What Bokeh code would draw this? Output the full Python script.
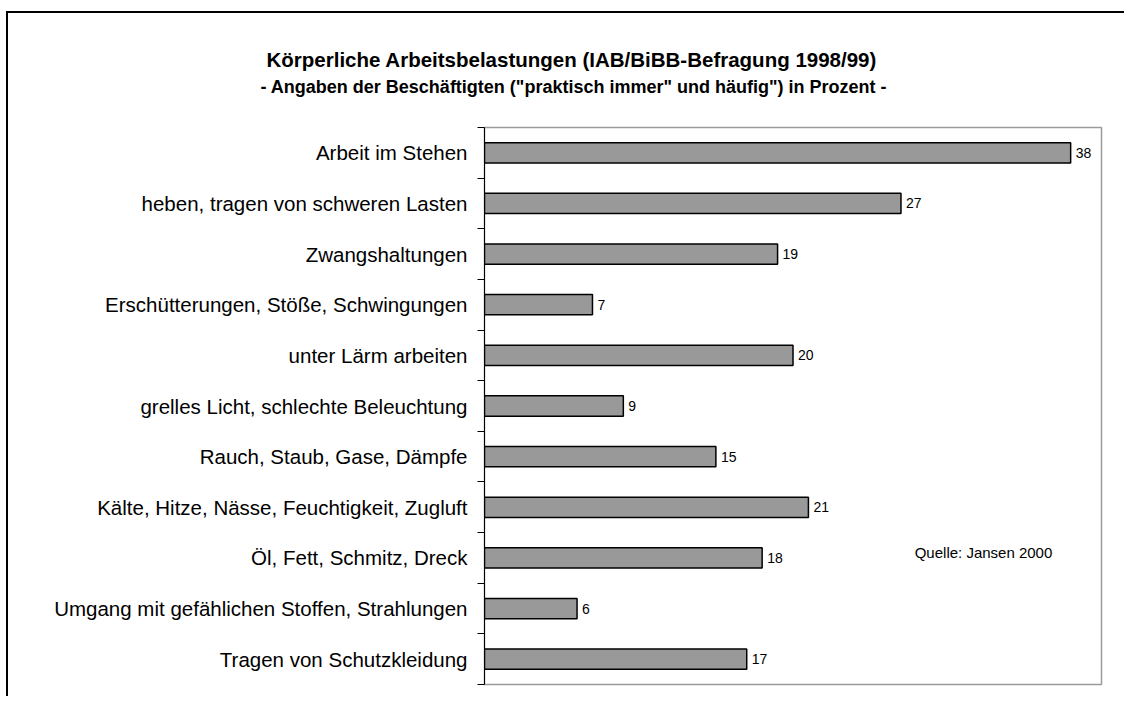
from bokeh.plotting import figure
from bokeh.models import (Range1d, LinearAxis, FixedTicker, Label, Title, ColumnDataSource)
from bokeh.core.properties import value
from bokeh.embed import file_html
from bokeh.resources import INLINE

categories = [
    "Arbeit im Stehen",
    "heben, tragen von schweren Lasten",
    "Zwangshaltungen",
    "Erschütterungen, Stöße, Schwingungen",
    "unter Lärm arbeiten",
    "grelles Licht, schlechte Beleuchtung",
    "Rauch, Staub, Gase, Dämpfe",
    "Kälte, Hitze, Nässe, Feuchtigkeit, Zugluft",
    "Öl, Fett, Schmitz, Dreck",
    "Umgang mit gefählichen Stoffen, Strahlungen",
    "Tragen von Schutzkleidung",
]
values = [38, 27, 19, 7, 20, 9, 15, 21, 18, 6, 17]
value_labels = [str(v) for v in values]

title_text = "Körperliche Arbeitsbelastungen (IAB/BiBB-Befragung 1998/99)"
subtitle_text = '- Angaben der Beschäftigten ("praktisch immer" und häufig") in Prozent -'
source_text = "Quelle: Jansen 2000"

FONT = "Liberation Sans"

n = len(categories)
ypos = [n - 0.5 - i for i in range(n)]  # first category at the top

p = figure(
    width=1118, height=685,
    y_range=Range1d(0, n),
    x_range=Range1d(0, 40),
    x_axis_location=None, y_axis_location=None,
    output_backend="svg", toolbar_location=None,
    min_border_left=476, min_border_right=25,
    min_border_top=114, min_border_bottom=14,
    title=None,
)
p.styles = {"border-left": "2px solid black", "border-top": "2px solid black",
            "position": "relative", "left": "6px", "top": "11px"}
p.background_fill_color = "white"
p.border_fill_color = "white"
p.outline_line_color = "#9a9a9a"
p.outline_line_width = 1.5
p.grid.visible = False

label_axis = LinearAxis(
    ticker=FixedTicker(ticks=ypos, minor_ticks=list(range(n + 1))),
    major_label_overrides={y: c for y, c in zip(ypos, categories)},
    axis_line_color="black", axis_line_width=1,
    major_tick_line_color=None, major_tick_in=0, major_tick_out=7,
    minor_tick_line_color="black", minor_tick_line_width=1,
    minor_tick_in=0, minor_tick_out=7,
    major_label_text_font=FONT, major_label_text_font_size="20.5px",
    major_label_text_color="black", major_label_standoff=10,
)
p.add_layout(label_axis, "left")

src = ColumnDataSource(dict(y=ypos, val=values, lab=value_labels))
p.hbar(y="y", left=0, right="val", height=0.4, source=src,
       fill_color="#999999", line_color="black", line_width=1.5)
p.text(x="val", y="y", text="lab", source=src, x_offset=5,
       text_baseline="middle", text_align="left",
       text_font=value(FONT), text_font_size="14px", text_color="black")

p.add_layout(Title(text=subtitle_text, align="left", offset=-224, standoff=62,
                   text_font=FONT, text_font_size="18px", text_font_style="bold",
                   text_color="black"), "above")
p.add_layout(Title(text=title_text, align="left", offset=-218, standoff=-54,
                   text_font=FONT, text_font_size="20.5px", text_font_style="bold",
                   text_color="black"), "above")

p.add_layout(Label(x=499, y=132, x_units="screen", y_units="screen",
                   text=source_text, text_align="center", text_baseline="middle",
                   text_font=FONT, text_font_size="15px", text_color="black"))

open("out.html", "w").write(file_html(p, INLINE))
